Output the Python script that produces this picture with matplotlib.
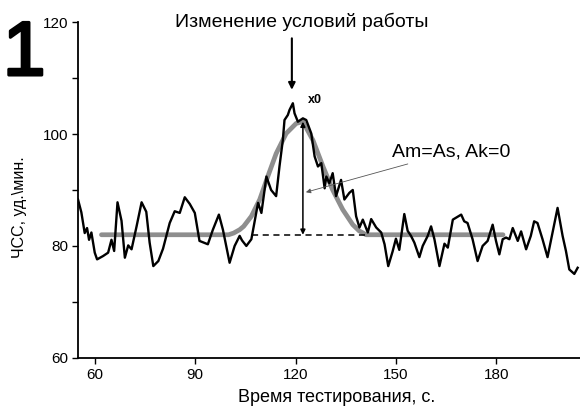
import matplotlib
matplotlib.use("Agg")
import matplotlib.pyplot as plt
import matplotlib.patheffects as pe

OUT_FILE = "out.png"

# Heart rate record
time_s = [55.0, 56.0, 57.0, 57.7, 58.3, 59.0, 60.0, 60.7, 62.5, 64.0,
          65.0, 65.8, 66.8, 68.0, 69.0, 70.0, 71.0, 72.5, 74.0, 75.4,
          76.4, 77.5, 79.0, 80.4, 82.4, 83.9, 85.4, 86.9, 88.4, 89.9,
          91.3, 93.8, 95.3, 97.1, 98.3, 100.3, 101.8, 103.3, 104.0, 105.3,
          106.8, 108.8, 109.8, 111.3, 112.7, 114.2, 115.2, 116.2, 116.7, 117.7,
          118.2, 119.2, 119.7, 120.7, 122.2, 123.2, 124.7, 125.7, 126.7, 127.7,
          128.7, 129.2, 130.1, 131.1, 132.1, 133.6, 134.6, 136.1, 137.1, 138.1,
          139.1, 140.1, 141.6, 142.6, 144.1, 145.6, 146.6, 147.7, 149.0, 150.0,
          151.0, 152.5, 153.5, 154.5, 155.5, 157.0, 158.0, 159.5, 160.5, 161.5,
          163.0, 164.5, 165.5, 167.0, 169.5, 170.4, 171.4, 172.9, 174.4, 175.9,
          177.4, 178.9, 179.9, 180.9, 181.9, 182.9, 183.9, 184.9, 186.4, 187.4,
          188.9, 190.3, 191.3, 192.3, 193.8, 195.3, 196.8, 198.3, 199.8, 200.8,
          201.8, 203.3, 204.3]
hr = [88.3, 86.0, 82.3, 83.2, 81.1, 82.4, 78.8, 77.6, 78.2, 78.8,
      81.1, 79.1, 87.8, 84.5, 77.9, 80.1, 79.4, 83.5, 87.8, 86.1,
      80.6, 76.4, 77.3, 79.5, 84.1, 86.2, 85.9, 88.7, 87.5, 85.9,
      80.9, 80.3, 82.9, 85.6, 82.9, 77.0, 80.0, 81.8, 81.0, 80.0,
      81.2, 87.7, 85.9, 92.4, 90.0, 88.9, 94.2, 98.9, 102.5, 103.4,
      104.3, 105.5, 103.7, 102.2, 102.8, 102.5, 100.1, 96.0, 94.2, 94.8,
      90.3, 92.4, 91.2, 93.0, 88.9, 91.8, 88.3, 89.5, 90.0, 85.3,
      83.3, 84.7, 82.4, 84.8, 83.3, 82.4, 80.3, 76.4, 79.0, 81.3,
      79.3, 85.7, 82.7, 81.8, 80.6, 78.0, 80.0, 81.8, 83.5, 81.2,
      76.4, 80.4, 79.7, 84.7, 85.6, 84.4, 84.1, 81.2, 77.3, 80.0,
      80.9, 83.8, 80.9, 78.5, 81.2, 81.5, 81.2, 83.2, 80.9, 82.6,
      79.4, 81.8, 84.4, 84.1, 81.2, 78.0, 82.4, 86.8, 81.8, 79.1,
      75.8, 75.0, 76.1]

# Fitted response curve (grey)
fit_time = [62.0, 100.0, 101.5, 103.3, 104.5, 106.8, 109.3, 111.7, 114.2, 117.2,
            120.2, 122.2, 125.2, 128.2, 131.1, 134.1, 137.1, 139.0, 141.1, 182.0]
fit_hr = [82.0, 82.0, 82.3, 82.9, 83.5, 85.3, 88.3, 92.4, 96.5, 100.1,
          101.9, 102.2, 98.9, 94.2, 90.0, 86.5, 83.8, 82.7, 82.0, 82.0]

baseline = 82.0
peak_time = 122.2
peak_hr = 102.2
event_time = 118.9

x_ticks = [60, 90, 120, 150, 180]
y_ticks = [60, 80, 100, 120]


def draw_chart():
  plt.rcParams['font.family'] = ['Liberation Sans', 'DejaVu Sans']
  fig = plt.figure(figsize=(5.8, 4.09), dpi=100)
  ax = fig.add_axes([0.1345, 0.125, 0.8655, 0.821])

  ax.plot(fit_time, fit_hr, color='#8e8e8e', lw=3.4, solid_capstyle='round',
          zorder=2)
  ax.plot(time_s, hr, color='black', lw=1.7, zorder=3)

  # baseline and amplitude marker
  ax.plot([107, 141], [baseline, baseline], color='black', lw=1.1,
          dashes=(4, 3), zorder=4)
  ax.annotate('', xy=(peak_time, baseline), xytext=(peak_time, peak_hr),
              arrowprops=dict(arrowstyle='<|-|>', color='black', lw=1.1,
                              mutation_scale=7, shrinkA=0, shrinkB=0),
              zorder=5)
  ax.text(123.7, 106.1, 'x0', fontsize=9, fontweight='bold', ha='left',
          va='center')

  ax.annotate('Am=As, Ak=0', xy=(123.1, 89.6), xytext=(148.8, 96.8),
              fontsize=14, ha='left', va='center',
              arrowprops=dict(arrowstyle='-|>', color='#555555', lw=0.6,
                              mutation_scale=7, shrinkA=2, shrinkB=0))

  # event label
  ax.annotate('', xy=(event_time, 107.9), xytext=(event_time, 117.1),
              arrowprops=dict(arrowstyle='-|>', color='black', lw=1.5,
                              mutation_scale=10, shrinkA=0, shrinkB=0),
              annotation_clip=False)
  ax.text(121.9, 120.0, 'Изменение условий работы', fontsize=14,
          ha='center', va='center', clip_on=False)

  ax.set_xlim(55, 205)
  ax.set_ylim(60, 120)
  ax.set_xticks(x_ticks)
  ax.set_yticks(y_ticks)
  ax.set_yticks([70, 90, 110], minor=True)
  ax.tick_params(axis='both', which='major', direction='out', length=4,
                 width=1, labelsize=11, pad=3)
  ax.tick_params(axis='y', which='minor', direction='out', length=4, width=1)
  for side in ['top', 'right']:
    ax.spines[side].set_visible(False)
  for side in ['left', 'bottom']:
    ax.spines[side].set_linewidth(1.3)

  fig.text(20 / 580, 1 - 207 / 409, 'ЧСС, уд.\\мин.', rotation=90,
           fontsize=11.5, ha='center', va='center')
  fig.text(337 / 580, 1 - 398 / 409, 'Время тестирования, с.', fontsize=13,
           ha='center', va='center')
  fig.text(3 / 580, 1 - 75 / 409, '1', fontsize=55, ha='left',
           va='baseline',
           path_effects=[pe.withStroke(linewidth=2.2, foreground='black')])

  fig.savefig(OUT_FILE, dpi=100)


def main():
  draw_chart()


if __name__ == "__main__":
  main()
